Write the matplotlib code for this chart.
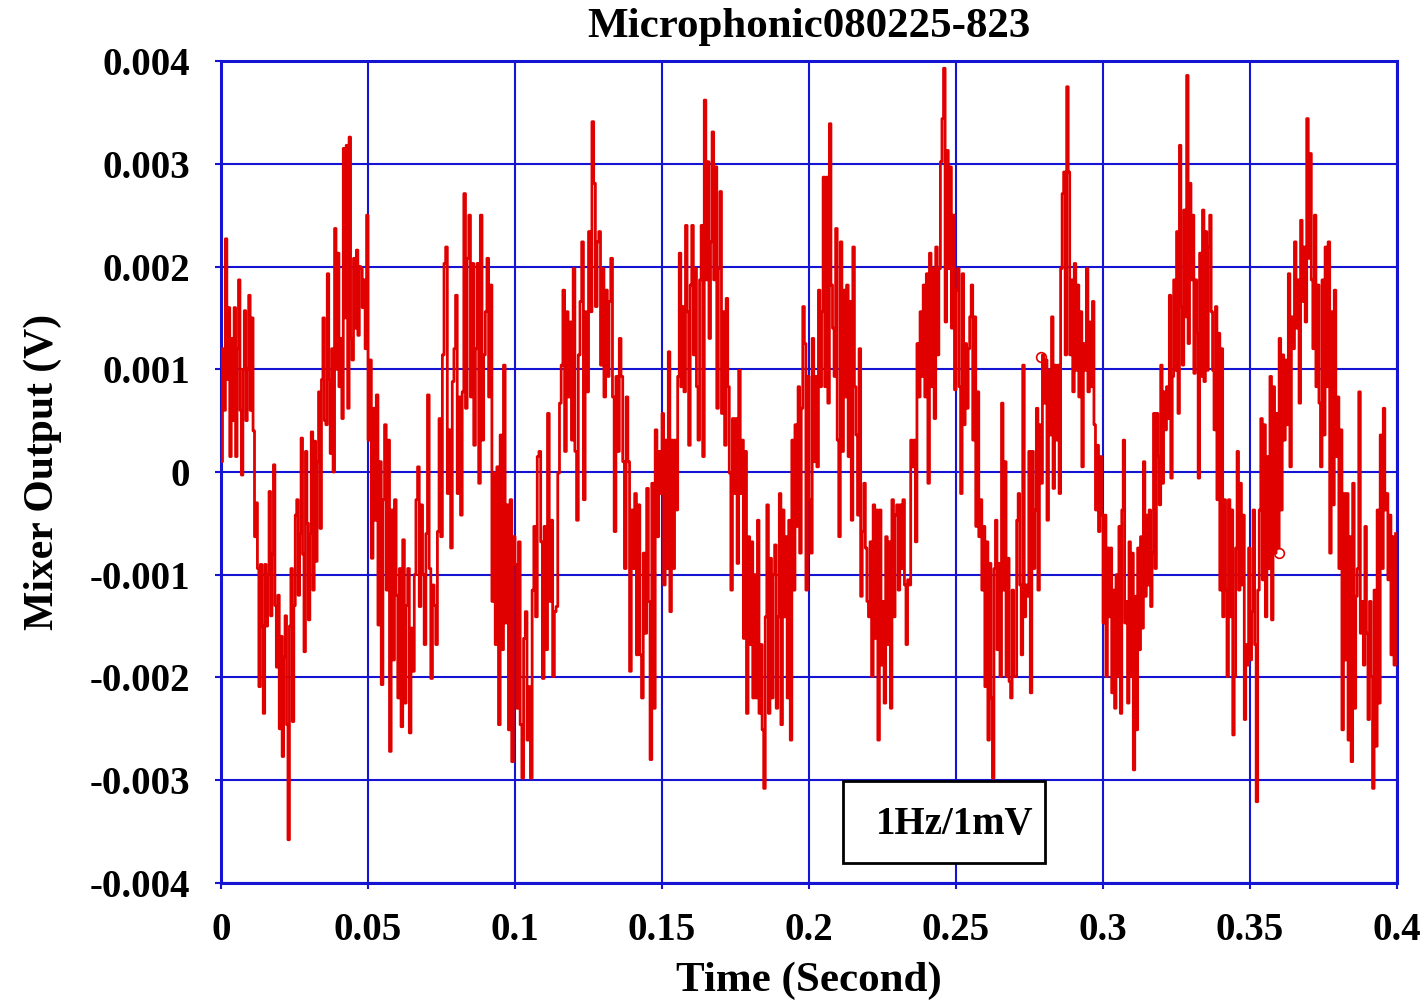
import numpy as np
import matplotlib
matplotlib.use("Agg")
import matplotlib.pyplot as plt
import matplotlib.patches as patches

matplotlib.rcParams.update({"figure.dpi": 100,
                            "font.family": ["Liberation Serif", "DejaVu Serif"],
                            "font.weight": "bold"})

TITLE  = "Microphonic080225-823"
XLABEL = "Time (Second)"
YLABEL = "Mixer Output (V)"
NOTE   = "1Hz/1mV"

SEG_LEN = 0.05   # each list below covers 50 ms of the trace

# mixer output in mV in 50 ms pieces
SEG_0 = [0.10, 1.2, 0.6, 2.27, 0.9, 1.6, 0.15, 1.3, 0.5, 1.6, 0.15, 1.2, 1.87, 0.6, -0.03,
         1.0, 1.57, 0.5, 1.0, 1.72, 0.6, 1.5, 0.4, -0.63, -0.3, -0.94, -2.09, -0.9, -1.5,
         -2.35, -0.9, -1.5, -1.0, -0.19, -1.4, -0.8, 0.07, -1.3, -1.9, -1.2, -2.5, -1.6,
         -2.77, -1.8, -1.4, -2.46, -3.58, -1.5, -0.94, -2.43, -1.3, -0.42, -0.27, -1.2,
         -0.6, 0.33, -0.8, -1.75, 0.2, -0.5, -1.44, -0.6, 0.39, -1.15, 0.3, -0.87, 0.1,
         0.78, -0.55, 0.9, 1.5, 0.5, 0.46, 1.93, 0.9, 0.18, 1.2, 0.0, 2.37, 1.0, 2.13, 0.83,
         1.3, 0.52, 3.15, 1.5, 3.18, 0.62, 3.26, 1.3, 1.09, 2.08, 1.4, 2.16, 1.33, 2.0,
         1.98, 1.6, 1.87, 1.2, 2.5]
SEG_1 = [0.31, 1.09, -0.84, 0.62, -0.47, 0.75, -1.49, 0.10, -2.07, -0.27, 0.46, -1.15,
         0.31, -2.72, -0.37, -1.83, -0.27, -1.2, -2.20, -0.94, -2.48, -0.66, -2.25, -1.3,
         -0.94, -2.54, -1.52, -1.94, -1.0, -0.27, 0.05, -1.31, -0.32, -1.0, -1.68, -0.6,
         0.75, -0.94, -2.01, -1.10, -1.3, -1.68, -0.58, 0.52, -0.63, 1.14, 2.03, 2.19,
         -0.21, 0.41, -0.74, 0.88, 1.2, 1.72, -0.21, 0.73, -0.42, 0.78, 2.71, 0.62, 2.08,
         2.50, 0.73, 2.03, 0.26, 1.2, 2.03, -0.11, 2.50, 0.31, 1.14, 1.56, 2.08, 0.73,
         1.82, -1.26, -0.01, -1.68, 0.05, -2.46, 0.36, -1.73, 1.04, -1.47, -0.32, -2.51,
         -0.27, -2.82, -0.63]
SEG_2 = [-0.9, -2.30, -0.68, -2.46, -2.98, -1.62, -1.36, -2.61, -2.09, -2.98, -1.15, -0.53,
         -1.41, 0.15, 0.20, -0.68, -2.01, -0.53, -1.73, 0.57, -1.26, -0.47, -1.99, -1.36,
         -1.31, -0.01, 0.67, 1.04, 1.77, 0.20, 1.56, 0.73, 1.46, 0.31, 1.98, 0.20, -0.47,
         1.14, 1.66, 2.24, -0.27, 1.56, 0.78, 2.34, 1.56, 3.41, 2.81, 1.61, 2.24, 2.34,
         1.04, 1.98, 0.73, 1.77, 0.93, 1.66, 2.08, 0.73, -0.58, 0.93, 0.20, 1.30, 0.93,
         0.10, -0.94, 0.73, 0.10, -1.94, -0.37, -0.94, -0.21, -1.78, -0.32, -1.78, -2.20,
         -0.79, -1.57, -0.16, -1.26, -2.80, -0.11, -2.30, 0.41, -0.63, 0.20, -0.21]
SEG_3 = [0.57, -1.10, 0.31, -0.94, 1.17, -1.36, 0.31, -0.94, 0.31, -0.37, 0.93, 2.13, 0.83,
         1.61, 0.78, 2.40, 1.56, 0.26, 1.82, 2.40, 1.14, 1.98, 0.83, 0.31, 1.87, 2.40, 0.15,
         3.62, 1.87, 3.02, 1.30, 2.24, 3.31, 1.87, 2.97, 0.62, 1.98, 2.73, 0.57, 1.56, 0.26,
         1.69, 0.83, -0.01, -1.15, 0.52, -0.21, 0.52, -0.89, 0.99, -0.21, 0.31, -1.62, 0.20,
         -2.35, -0.63, -1.68, -0.68, -2.20, -1.00, -2.20, -0.47, -2.35, -1.68, -2.51, -3.08,
         -1.41, -0.32, -2.35, -0.84, -2.20, -1.00, -0.71, -2.30, -1.41, -0.21, -2.46, -0.37,
         -1.41, -0.63, -2.20, -0.47, -2.61, 0.31, -1.15, 0.46, -0.53, 0.83, -0.79, 0.62,
         1.61, 1.25, -1.15, 0.93]
SEG_4 = [-0.27, -0.79, 1.30, 0.10, 0.93, 0.05, 1.77, 0.83, 1.56, 2.87, 0.83, 2.87, 0.67,
         3.39, 1.82, 1.40, 0.93, 2.37, 0.31, -0.63, 2.24, 0.20, 1.77, 0.73, 1.82, 0.15,
         1.66, -0.47, 2.19, 0.83, 0.36, -0.42, 1.20, -1.21, -0.58, -0.11, -0.74, -1.26,
         -1.41, -0.68, -1.99, -0.32, -1.62, -0.37, -2.61, -0.37, -1.88, -1.26, -2.25, -0.63,
         -1.68, -0.68, -2.30, -0.27, -1.41, -0.42, -0.32, -1.15, -0.32, -0.94, -0.27, -1.10,
         -1.68, -1.05, -1.10, 0.31, 0.05, 0.31, -0.68, 1.25, 0.73, 1.56, 0.93, 1.82, 0.73,
         1.93, -0.11, 2.13, 0.83, 1.98, 0.52, 2.19, 1.14, 1.98, 3.02, 3.44, 3.93, 1.46, 3.13,
         1.98, 2.97, 1.40, 2.50, 0.8]
SEG_5 = [1.77, 1.98, 0.83, -0.21, 1.93, 0.46, 1.25, 0.62, 1.20, 1.51, 1.82, 0.31, 1.51,
         -0.53, 0.78, -0.63, -0.27, -1.15, -0.53, -2.09, -0.68, -2.61, -0.89, -2.20, -2.98,
         -0.94, -0.47, -1.73, -0.89, -1.99, 0.67, -1.15, 0.10, -1.99, -0.84, -2.04, -2.20,
         -1.15, -1.99, -1.99, -0.47, -0.21, -1.10, -1.78, 1.04, -1.41, -1.10, -1.21, 0.20,
         -2.15, 0.20, -0.94, -0.37, 0.62, -1.15, 0.46, -0.11, 1.14, 0.67, 1.09, -0.47, 0.99,
         0.36, 1.51, -0.16, 1.04, 0.31, 1.04, -0.21, 1.98, 2.71, 2.92, 1.14, 3.75, 2.92, 1.14,
         1.87, 0.78, 2.03, 0.99, 1.82, 0.73, 1.56, 0.05, 1.25, 0.99, 1.98, 0.78, 1.46, 0.83,
         1.66, 0.46, -0.37, 0.26, -0.58, 0.15, -0.42]
SEG_6 = [-1.47, -0.42, -1.99, -0.74, -1.41, -0.74, -2.15, -1.15, -2.30, -1.00, -1.99, -0.53,
         -2.35, -0.37, 0.31, -1.47, -1.26, -2.25, -0.68, -1.99, -0.79, -2.90, -1.21, -2.51,
         -0.74, -1.73, -0.63, -1.52, 0.10, -1.21, -0.42, -1.10, -0.37, -1.31, -0.79, 0.57,
         -0.94, 0.57, 0.15, -0.32, 1.04, -0.11, 0.78, 0.41, 0.83, 0.52, 1.72, -0.06, 0.93,
         1.87, 0.99, 2.34, 0.57, 3.18, 1.61, 1.04, 2.55, 1.51, 3.86, 1.25, 2.81, 1.87, 2.50,
         0.96, 1.87, 1.35, -0.06, 2.13, 0.93, 2.55, 0.88, 2.34, 0.99, 2.19, 2.50, 1.56, 0.99,
         0.41, 1.61, -0.27, 1.35, -1.15, 1.20, -1.41, -0.27, -1.15, -1.99, -0.27, -1.41,
         -0.37, -2.56, -1.99, -0.74, 0.20, -1.15, -0.11, -1.10, -0.42, -2.41, -1.68, -1.88,
         -0.74]
SEG_7 = [-1.83, -1.36, -0.37, -1.68, -3.21, -1.15, -0.37, 0.52, -1.05, 0.46, -1.41, 0.15,
         -0.94, 0.93, -1.44, 0.83, -0.79, 0.57, -0.74, 1.30, -0.37, 1.14, 0.31, 1.09, 0.46,
         1.93, 0.05, 1.51, 1.20, 2.24, 1.40, 1.87, 0.67, 2.45, 1.66, 2.19, 1.46, 3.44, 2.08,
         3.10, 1.87, 1.20, 2.50, 0.83, 1.82, 0.67, 0.05, 1.87, 0.36, 2.19, 0.83, 2.24, -0.79,
         1.56, -0.32, 1.77, 0.15, 0.73, -0.94, 0.41, -2.51, -0.21, -1.83, -0.21, -2.61,
         -0.63, -2.82, -0.11, -2.30, -1.21, -0.94, 0.78, -1.57, -1.26, -1.88, -0.53, -1.57,
         -2.41, -1.26, -1.99, -3.08, -1.15, -2.67, -0.37, -2.25, 0.36, -0.94, 0.62, -0.37,
         -0.21, -1.05, -0.42, -1.78, -0.63, -1.88, -0.6]
SEGMENTS = [SEG_0, SEG_1, SEG_2, SEG_3, SEG_4, SEG_5, SEG_6, SEG_7]

# two stray open-circle markers on the trace
MARK_T  = [0.2789, 0.3599]
MARK_MV = [1.12, -0.79]

XTICKS = [0, 0.05, 0.1, 0.15, 0.2, 0.25, 0.3, 0.35, 0.4]
XTICK_LABELS = ["0", "0.05", "0.1", "0.15", "0.2", "0.25", "0.3", "0.35", "0.4"]
YTICKS = [-0.004, -0.003, -0.002, -0.001, 0, 0.001, 0.002, 0.003, 0.004]
YTICK_LABELS = ["-0.004", "-0.003", "-0.002", "-0.001", "0", "0.001", "0.002", "0.003", "0.004"]

GRID_BLUE = "#1414d2"
TRACE_RED = "#e00000"

# build time axis piece by piece
t_parts, v_parts = [], []
for k, seg in enumerate(SEGMENTS):
    t_parts.append(np.linspace(k * SEG_LEN, (k + 1) * SEG_LEN, len(seg), endpoint=False))
    v_parts.append(np.asarray(seg) * 1e-3)
t = np.concatenate(t_parts)
v = np.concatenate(v_parts)

fig = plt.figure(figsize=(14.26, 10.01))
ax = fig.add_axes([0.155, 0.118, 0.8247, 0.821])

ax.plot(t, v, color=TRACE_RED, lw=2.0, drawstyle="steps-post", zorder=3)
ax.plot(MARK_T, np.asarray(MARK_MV) * 1e-3, "o", mfc="none", mec=TRACE_RED,
        ms=7, mew=1.2, zorder=3)

ax.set_xlim(0, 0.4)
ax.set_ylim(-0.004, 0.004)
ax.set_xticks(XTICKS)
ax.set_xticklabels(XTICK_LABELS)
ax.set_yticks(YTICKS)
ax.set_yticklabels(YTICK_LABELS)
ax.grid(True, color=GRID_BLUE, lw=1.5, zorder=1)
ax.set_axisbelow(True)
for sp in ax.spines.values():
    sp.set_color(GRID_BLUE)
    sp.set_linewidth(2.2)
ax.tick_params(axis="both", which="major", direction="out", length=4, width=1.5,
               color=GRID_BLUE, labelsize=28, pad=17)
ax.tick_params(axis="y", pad=18)

ax.set_title(TITLE, fontsize=31, fontweight="bold", pad=17)
ax.set_xlabel(XLABEL, fontsize=31, fontweight="bold", labelpad=9)
ax.set_ylabel(YLABEL, fontsize=30, fontweight="bold", labelpad=20)

# the "1Hz/1mV" note box sits above the trace
note_box = patches.Rectangle((0.529, 0.0243), 0.172, 0.0997, transform=ax.transAxes,
                             fc="white", ec="black", lw=2.0, zorder=5)
ax.add_patch(note_box)
ax.text(0.624, 0.0706, NOTE, transform=ax.transAxes, fontsize=28, fontweight="bold",
        ha="center", va="center", zorder=6)

fig.savefig("out.png", dpi=100)
